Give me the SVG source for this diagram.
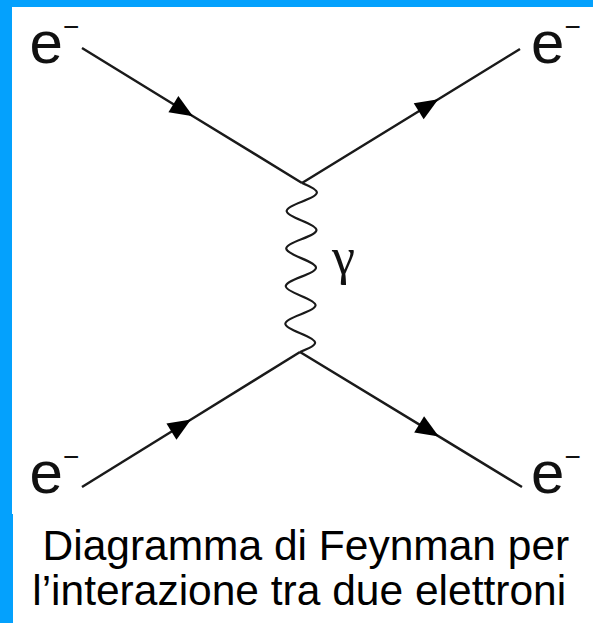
<svg xmlns="http://www.w3.org/2000/svg" width="593" height="623" viewBox="0 0 593 623">
  <style>
    .fermion { fill: none; stroke: #1a1a1a; stroke-width: 2.5; marker-mid: url(#arrow); }
    .photon { fill: none; stroke: #1a1a1a; stroke-width: 2.2; }
    .lbl { font-family: "Liberation Sans", Arial, sans-serif; font-size: 60px; fill: #111; }
    .sup { font-size: 28px; }
    .gamma { font-family: "Liberation Serif", "Times New Roman", serif; font-size: 52px; fill: #111; }
    .cap { font-family: "Liberation Sans", Arial, Helvetica, sans-serif; font-size: 42.5px; fill: #000; }
  </style>
  <defs>
    <marker id="arrow" markerUnits="userSpaceOnUse" viewBox="-25 -11 26 22" refX="0" refY="0" markerWidth="26" markerHeight="22" orient="auto">
      <path d="M0,0 L-23,-9.5 L-23,9.5 Z" fill="#000"/>
    </marker>
  </defs>
  <rect x="0" y="0" width="593" height="623" fill="#ffffff"/>
  <g id="frame">
    <rect x="0" y="0" width="593" height="7" fill="#04a1fd"/>
    <rect x="0" y="0" width="12" height="515" fill="#04a1fd"/>
    <rect x="0" y="514" width="13" height="109" fill="#04a1fd"/>
  </g>
  <g id="connectors">
    <path class="fermion" d="M82,48 L193,116.2 L302,183"/>
    <path class="fermion" d="M302,183 L438.3,99.2 L520,49"/>
    <path class="fermion" d="M82,487 L191,419.5 L300,352"/>
    <path class="fermion" d="M300,352 L438.8,436.4 L522,487"/>
    <path class="photon" transform="rotate(0.68 302 183)" d="M302,183
      c 7.68,3.06 15,6.52 15,9.39 c 0,2.87 -7.32,6.33 -15,9.39 c -7.68,3.06 -15,6.52 -15,9.39 c 0,2.87 7.32,6.33 15,9.39
      c 7.68,3.06 15,6.52 15,9.39 c 0,2.87 -7.32,6.33 -15,9.39 c -7.68,3.06 -15,6.52 -15,9.39 c 0,2.87 7.32,6.33 15,9.39
      c 7.68,3.06 15,6.52 15,9.39 c 0,2.87 -7.32,6.33 -15,9.39 c -7.68,3.06 -15,6.52 -15,9.39 c 0,2.87 7.32,6.33 15,9.39
      c 7.68,3.06 15,6.52 15,9.39 c 0,2.87 -7.32,6.33 -15,9.39 c -7.68,3.06 -15,6.52 -15,9.39 c 0,2.87 7.32,6.33 15,9.39
      c 7.68,3.06 15,6.52 15,9.39 c 0,2.87 -7.32,6.33 -15,9.39"/>
  </g>
  <g id="e-in-top">
    <text class="lbl" x="29.6" y="63">e<tspan class="sup" y="36">−</tspan></text>
  </g>
  <g id="e-out-top">
    <text class="lbl" x="531" y="63">e<tspan class="sup" y="36">−</tspan></text>
  </g>
  <g id="e-in-bottom">
    <text class="lbl" x="29.6" y="493">e<tspan class="sup" y="466">−</tspan></text>
  </g>
  <g id="e-out-bottom">
    <text class="lbl" x="531" y="493">e<tspan class="sup" y="466">−</tspan></text>
  </g>
  <g id="photon-label">
    <text class="gamma" x="332" y="274">γ</text>
  </g>
  <g id="caption">
    <text class="cap" x="42.5" y="560">Diagramma di Feynman per</text>
    <text class="cap" x="32.2" y="605">l’interazione tra due elettroni</text>
  </g>
</svg>
